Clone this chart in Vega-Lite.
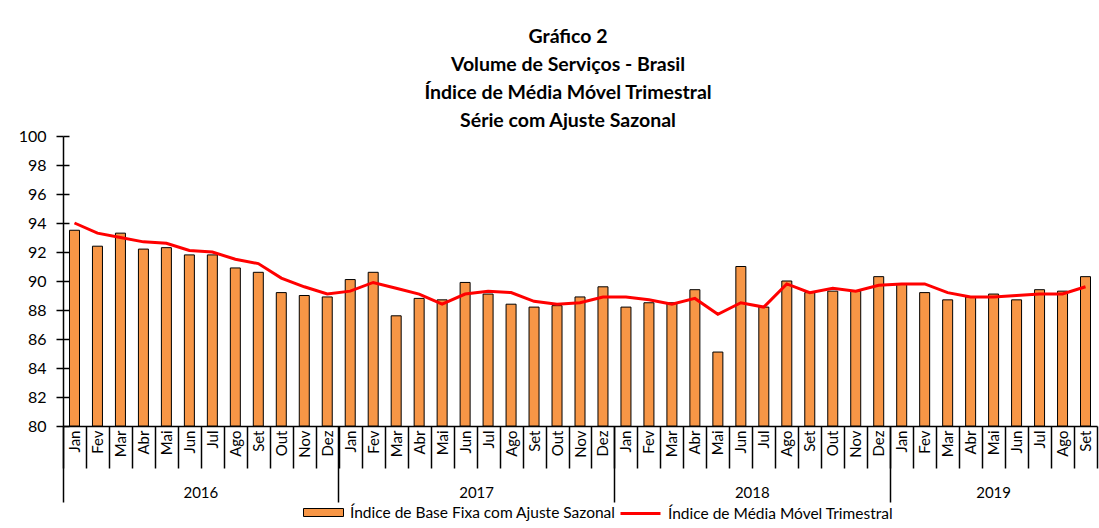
{
  "$schema": "https://vega.github.io/schema/vega-lite/v6.json",
  "width": 1034,
  "height": 290,
  "autosize": {"type": "none"},
  "padding": {"left": 63, "top": 136, "right": 2, "bottom": 102},
  "background": "white",
  "config": {
    "view": {"stroke": null},
    "font": "Lato",
    "axis": {"grid": false, "domainColor": "black", "tickColor": "black", "labelColor": "black", "labelFont": "Lato", "labelOverlap": false}
  },
  "title": {
    "text": ["Gráfico 2", "Volume de Serviços - Brasil", "Índice de Média Móvel Trimestral", "Série com Ajuste Sazonal"],
    "fontSize": 19.5,
    "fontWeight": "bold",
    "font": "Lato",
    "lineHeight": 28,
    "anchor": "middle",
    "frame": "group",
    "offset": -3,
    "dx": -12,
    "color": "black"
  },
  "data": {
    "values": [
      {"periodo": "Jan 2016", "base": 93.5, "mm3": 94.0},
      {"periodo": "Fev 2016", "base": 92.4, "mm3": 93.3},
      {"periodo": "Mar 2016", "base": 93.3, "mm3": 93.0},
      {"periodo": "Abr 2016", "base": 92.2, "mm3": 92.7},
      {"periodo": "Mai 2016", "base": 92.3, "mm3": 92.6},
      {"periodo": "Jun 2016", "base": 91.8, "mm3": 92.1},
      {"periodo": "Jul 2016", "base": 91.8, "mm3": 92.0},
      {"periodo": "Ago 2016", "base": 90.9, "mm3": 91.5},
      {"periodo": "Set 2016", "base": 90.6, "mm3": 91.2},
      {"periodo": "Out 2016", "base": 89.2, "mm3": 90.2},
      {"periodo": "Nov 2016", "base": 89.0, "mm3": 89.6},
      {"periodo": "Dez 2016", "base": 88.9, "mm3": 89.1},
      {"periodo": "Jan 2017", "base": 90.1, "mm3": 89.3},
      {"periodo": "Fev 2017", "base": 90.6, "mm3": 89.9},
      {"periodo": "Mar 2017", "base": 87.6, "mm3": 89.5},
      {"periodo": "Abr 2017", "base": 88.8, "mm3": 89.1},
      {"periodo": "Mai 2017", "base": 88.7, "mm3": 88.4},
      {"periodo": "Jun 2017", "base": 89.9, "mm3": 89.1},
      {"periodo": "Jul 2017", "base": 89.1, "mm3": 89.3},
      {"periodo": "Ago 2017", "base": 88.4, "mm3": 89.2},
      {"periodo": "Set 2017", "base": 88.2, "mm3": 88.6},
      {"periodo": "Out 2017", "base": 88.3, "mm3": 88.4},
      {"periodo": "Nov 2017", "base": 88.9, "mm3": 88.5},
      {"periodo": "Dez 2017", "base": 89.6, "mm3": 88.9},
      {"periodo": "Jan 2018", "base": 88.2, "mm3": 88.9},
      {"periodo": "Fev 2018", "base": 88.5, "mm3": 88.7},
      {"periodo": "Mar 2018", "base": 88.5, "mm3": 88.4},
      {"periodo": "Abr 2018", "base": 89.4, "mm3": 88.8},
      {"periodo": "Mai 2018", "base": 85.1, "mm3": 87.7},
      {"periodo": "Jun 2018", "base": 91.0, "mm3": 88.5},
      {"periodo": "Jul 2018", "base": 88.2, "mm3": 88.2},
      {"periodo": "Ago 2018", "base": 90.0, "mm3": 89.8},
      {"periodo": "Set 2018", "base": 89.2, "mm3": 89.2},
      {"periodo": "Out 2018", "base": 89.3, "mm3": 89.5},
      {"periodo": "Nov 2018", "base": 89.3, "mm3": 89.3},
      {"periodo": "Dez 2018", "base": 90.3, "mm3": 89.7},
      {"periodo": "Jan 2019", "base": 89.8, "mm3": 89.8},
      {"periodo": "Fev 2019", "base": 89.2, "mm3": 89.8},
      {"periodo": "Mar 2019", "base": 88.7, "mm3": 89.2},
      {"periodo": "Abr 2019", "base": 88.9, "mm3": 88.9},
      {"periodo": "Mai 2019", "base": 89.1, "mm3": 88.9},
      {"periodo": "Jun 2019", "base": 88.7, "mm3": 89.0},
      {"periodo": "Jul 2019", "base": 89.4, "mm3": 89.1},
      {"periodo": "Ago 2019", "base": 89.3, "mm3": 89.1},
      {"periodo": "Set 2019", "base": 90.3, "mm3": 89.6}
    ]
  },
  "layer": [
    {
      "mark": {"type": "bar", "width": 10, "stroke": "black", "strokeWidth": 1},
      "encoding": {
        "x": {
          "field": "periodo",
          "type": "ordinal",
          "sort": null,
          "scale": {"paddingInner": 0, "paddingOuter": 0},
          "axis": {
            "title": null,
            "labelAngle": -90,
            "labelAlign": "right",
            "labelBaseline": "middle",
            "labelExpr": "split(datum.label, ' ')[0]",
            "labelFontSize": 15,
            "labelPadding": -38,
            "labelOverlap": false,
            "tickBand": "extent",
            "tickWidth": 1.5,
            "tickSize": 42,
            "domainWidth": 1.5
          }
        },
        "y": {
          "field": "base",
          "type": "quantitative",
          "scale": {"domain": [80, 100], "zero": false, "nice": false},
          "axis": {
            "title": null,
            "orient": "left",
            "values": [80, 82, 84, 86, 88, 90, 92, 94, 96, 98, 100],
            "labelOverlap": false,
            "labelFontSize": 16,
            "labelPadding": 10,
            "tickSize": 7,
            "tickWidth": 1.5,
            "domainWidth": 1.5
          }
        },
        "y2": {"datum": 80},
        "color": {
          "datum": "Índice de Base Fixa com Ajuste Sazonal",
          "type": "nominal",
          "scale": {"domain": ["Índice de Base Fixa com Ajuste Sazonal"], "range": ["#F79646"]},
          "legend": {
            "title": null,
            "orient": "none",
            "legendX": 240,
            "legendY": 356,
            "labelFontSize": 15.5,
            "labelFont": "Lato",
            "labelColor": "black",
            "labelLimit": 400,
            "symbolType": "M-1,-0.2H1V0.2H-1Z",
            "symbolSize": 1600,
            "symbolStrokeColor": "black",
            "symbolStrokeWidth": 1,
            "symbolOpacity": 1,
            "symbolOffset": 0,
            "labelOffset": 6
          }
        }
      }
    },
    {
      "mark": {"type": "line", "strokeWidth": 3},
      "encoding": {
        "x": {
          "field": "periodo",
          "type": "ordinal",
          "sort": null,
          "axis": {
            "title": null,
            "orient": "bottom",
            "values": ["Jul 2016", "Jul 2017", "Jul 2018", "Mai 2019"],
            "labelExpr": "split(datum.label, ' ')[1]",
            "labelAngle": 0,
            "labelAlign": "center",
            "labelBaseline": "top",
            "labelFontSize": 15,
            "labelPadding": 59,
            "labelOverlap": false,
            "labelOffset": {"condition": {"test": "indexof(datum.value, 'Jul') == 0", "value": -11.5}, "value": 0},
            "ticks": false,
            "domain": false
          }
        },
        "y": {"field": "mm3", "type": "quantitative", "axis": null},
        "color": {
          "datum": "Índice de Média Móvel Trimestral",
          "type": "nominal",
          "scale": {"domain": ["Índice de Média Móvel Trimestral"], "range": ["#FF0000"]},
          "legend": {
            "title": null,
            "orient": "none",
            "legendX": 556,
            "legendY": 356,
            "labelFontSize": 15.5,
            "labelFont": "Lato",
            "labelColor": "black",
            "labelLimit": 400,
            "symbolType": "stroke",
            "symbolSize": 1600,
            "symbolStrokeWidth": 3,
            "symbolOffset": 0,
            "labelOffset": 6
          }
        }
      }
    },
    {
      "mark": {"type": "point", "opacity": 0},
      "encoding": {
        "x": {
          "field": "periodo",
          "type": "ordinal",
          "sort": null,
          "axis": {
            "title": null,
            "orient": "bottom",
            "values": ["Jan 2016", "Jan 2017", "Jan 2018", "Jan 2019"],
            "bandPosition": 0,
            "labels": false,
            "domain": false,
            "tickSize": 76,
            "tickWidth": 1.5
          }
        },
        "y": {
          "field": "base",
          "type": "quantitative",
          "axis": {
            "title": null,
            "orient": "left",
            "values": [80, 82, 84, 86, 88, 90, 92, 94, 96, 98, 100],
            "labels": false,
            "domain": false,
            "tickSize": -6,
            "tickWidth": 1.5
          }
        }
      }
    }
  ],
  "resolve": {
    "axis": {"x": "independent", "y": "independent"},
    "scale": {"color": "independent"},
    "legend": {"color": "independent"}
  }
}
